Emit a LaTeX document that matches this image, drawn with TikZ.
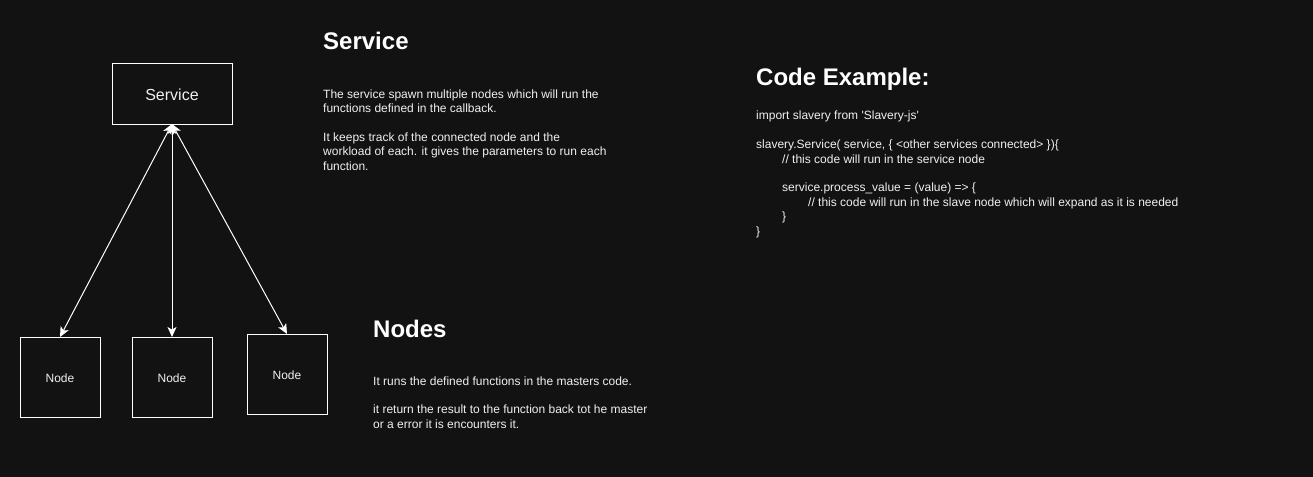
\documentclass[tikz,border=0pt]{standalone}
\usepackage{fontspec}
\setmainfont{Liberation Sans}
\usetikzlibrary{arrows.meta}
\definecolor{bg}{HTML}{121212}
\definecolor{fg}{HTML}{F0F0F0}
\newcommand\straightq{\XeTeXglyph\XeTeXcharglyph"27\relax}
\begin{document}
\begin{tikzpicture}[x=1pt,y=-1pt,
  box/.style={draw=white,line width=1pt,inner sep=0pt,outer sep=0pt,text=fg},
  nodebox/.style={box,minimum width=80pt,minimum height=80pt,text height=10.6pt,text depth=0pt,font=\fontsize{12}{14.4}\selectfont},
  title/.style={anchor=base west,inner sep=0pt,text=white,font=\fontsize{24}{28}\selectfont\bfseries},
  body/.style={anchor=base west,inner sep=0pt,text=fg,font=\fontsize{12}{14.4}\selectfont},
  link/.style={white,line width=1pt,{Stealth[length=10pt,width=9pt,inset=2.5pt]}-{Stealth[length=10pt,width=9pt,inset=2.5pt]}}]
\useasboundingbox (0,0) rectangle (1313,476);
\fill[bg] (-5,-5) rectangle (1318,481);
% boxes
\node[box,minimum width=120pt,minimum height=60pt,text height=14pt,text depth=0pt,font=\fontsize{16}{19}\selectfont] (svc) at (172,94) {Service};
\node[nodebox] (n1) at (60,377) {Node};
\node[nodebox] (n2) at (172,377) {Node};
\node[nodebox] (n3) at (287,374) {Node};
% connectors
\draw[link] (svc.south) -- (n1.north);
\draw[link] (svc.south) -- (n2.north);
\draw[link] (svc.south) -- (n3.north);
% Service text
\node[title] (t1) at (323,50) {Service};
\node[body] (s1) at (323,98.3) {The service spawn multiple nodes which will run the};
\node[body] (s2) at (323,112.7) {functions defined in the callback.};
\node[body] (s3) at (323,141.5) {It keeps track of the connected node and the};
\node[body] (s4) at (323,155.9) {workload of each. it gives the parameters to run each};
\node[body] (s5) at (323,170.3) {function.};
% Nodes text
\node[title] (t2) at (373,337.4) {Nodes};
\node[body] (d1) at (373,385) {It runs the defined functions in the masters code.};
\node[body] (d2) at (373,413.8) {it return the result to the function back tot he master};
\node[body] (d3) at (373,428.2) {or a error it is encounters it.};
% Code example
\node[title] (t3) at (756,85.7) {Code Example:};
\node[body] (c1) at (756,119.8) {import slavery from \straightq Slavery-js\straightq};
\node[body] (c2) at (756,148.6) {slavery.Service( service, \{ <other services connected> \})\{};
\node[body] (c3) at (782,163) {// this code will run in the service node};
\node[body] (c4) at (782,191.8) {service.process\_value = (value) => \{};
\node[body] (c5) at (808,206.2) {// this code will run in the slave node which will expand as it is needed};
\node[body] (c6) at (782,220.6) {\}};
\node[body] (c7) at (756,235) {\}};
\end{tikzpicture}
\end{document}
